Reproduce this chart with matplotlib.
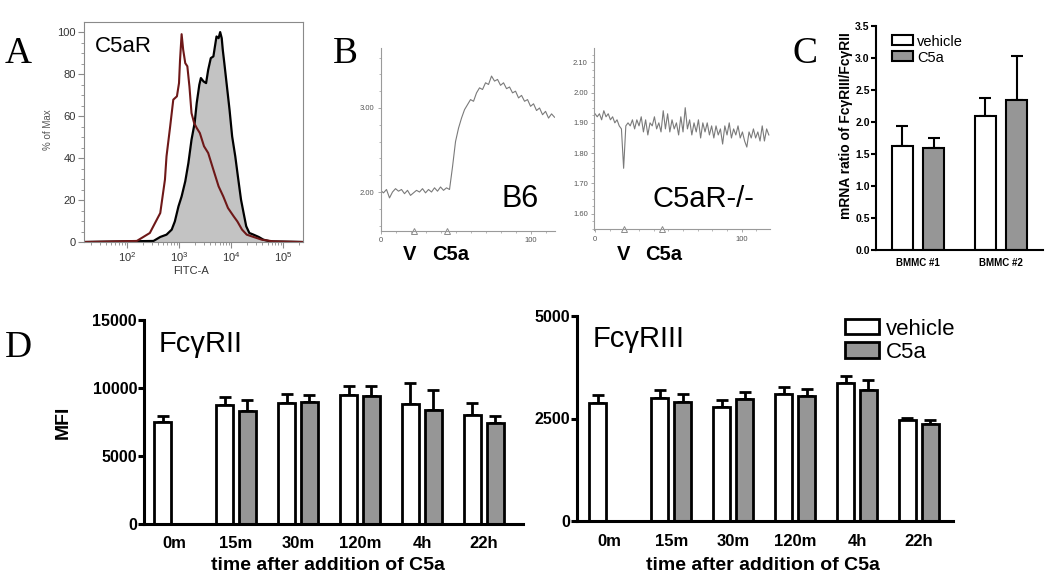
import numpy as np
import matplotlib
matplotlib.use("Agg")
import matplotlib.pyplot as plt
from matplotlib.patches import Rectangle
from matplotlib.ticker import MultipleLocator, FixedLocator, LogLocator, NullFormatter
from matplotlib.transforms import blended_transform_factory

plt.rcParams['font.family'] = ['Liberation Sans', 'DejaVu Sans']
plt.rcParams['mathtext.fontset'] = 'custom'
plt.rcParams['mathtext.rm'] = 'Liberation Sans'

# ---------------- data ----------------
# Panel A: flow histograms (log10 FITC vs % of max)
iso_log10 = [1.18, 2.19, 2.44, 2.64, 2.73, 2.76, 2.83, 2.89, 2.96, 3.00, 3.02, 3.05, 3.08,
             3.12, 3.16, 3.20, 3.24, 3.29, 3.34, 3.40, 3.48, 3.56, 3.66, 3.76, 3.85, 3.94,
             4.05, 4.12, 4.21, 4.30, 4.43, 4.59, 4.81, 5.38]
iso_pct = [0, 0.5, 4.3, 13.8, 29.7, 40.8, 55.0, 67.8, 69.4, 75.7, 86.8, 99.0, 91.6,
           85.2, 83.7, 74.1, 61.4, 56.7, 54.3, 51.9, 45.6, 42.4, 34.4, 26.5, 21.7, 16.2,
           12.2, 9.8, 5.9, 3.5, 2.4, 1.1, 0.3, 0]
c5ar_log10 = [1.18, 2.51, 2.64, 2.76, 2.86, 2.92, 2.99, 3.05, 3.12, 3.18, 3.24, 3.30, 3.34,
              3.39, 3.42, 3.47, 3.52, 3.56, 3.61, 3.66, 3.69, 3.72, 3.76, 3.79, 3.82, 3.84,
              3.87, 3.92, 3.97, 4.02, 4.08, 4.13, 4.19, 4.24, 4.29, 4.35, 4.43, 4.53, 4.62,
              4.75, 5.38]
c5ar_pct = [0, 0.5, 2.4, 3.5, 5.9, 9.8, 17.0, 21.7, 28.9, 37.6, 48.7, 56.7, 66.2,
            74.9, 78.1, 76.5, 75.7, 82.0, 87.6, 88.4, 93.2, 97.9, 97.1, 100.0, 97.1, 91.6,
            85.2, 74.1, 63.0, 50.3, 40.8, 31.3, 20.2, 13.8, 7.5, 4.3, 3.5, 2.4, 1.1,
            0.3, 0]

# Panel B: calcium traces (ratio vs time)
b6_step = 2.0
b6_ratio = [2.02, 1.99, 2.03, 1.93, 2.00, 2.04, 2.01, 2.03, 1.98, 2.02,
            1.96, 1.99, 2.02, 2.00, 2.04, 1.99, 2.03, 2.00, 2.05, 2.01,
            2.06, 2.02, 2.05, 2.03, 2.30, 2.60, 2.76, 2.88, 2.98, 3.04,
            3.10, 3.08, 3.18, 3.24, 3.22, 3.30, 3.28, 3.38, 3.32, 3.34,
            3.27, 3.30, 3.23, 3.25, 3.18, 3.20, 3.12, 3.15, 3.08, 3.10,
            3.02, 3.05, 2.97, 3.00, 2.92, 2.96, 2.88, 2.93, 2.89]
b6_marks = [22, 44]
ko_step = 1.5
ko_ratio = [1.93, 1.92, 1.93, 1.91, 1.94, 1.92, 1.93, 1.91, 1.92, 1.90,
            1.91, 1.89, 1.88, 1.75, 1.89, 1.90, 1.89, 1.91, 1.88, 1.91,
            1.89, 1.92, 1.87, 1.91, 1.86, 1.90, 1.89, 1.92, 1.88, 1.90,
            1.87, 1.94, 1.88, 1.93, 1.87, 1.91, 1.88, 1.90, 1.86, 1.92,
            1.87, 1.95, 1.88, 1.91, 1.86, 1.90, 1.87, 1.91, 1.85, 1.90,
            1.87, 1.90, 1.86, 1.89, 1.85, 1.89, 1.86, 1.88, 1.83, 1.89,
            1.86, 1.90, 1.85, 1.88, 1.86, 1.89, 1.85, 1.87, 1.84, 1.82,
            1.87, 1.85, 1.88, 1.85, 1.87, 1.84, 1.89, 1.84, 1.88, 1.86]
ko_marks = [19.7, 45.5]

# Panel C: mRNA ratio
c_groups = ['BMMC #1', 'BMMC #2']
c_vehicle = [1.63, 2.09]
c_vehicle_err = [0.30, 0.29]
c_c5a = [1.60, 2.34]
c_c5a_err = [0.15, 0.69]

# Panel D: MFI over time
times = ['0m', '15m', '30m', '120m', '4h', '22h']
r2_vehicle = [7500, 8760, 8900, 9470, 8810, 8050]
r2_vehicle_err = [450, 590, 640, 680, 1590, 830]
r2_c5a = [np.nan, 8340, 8950, 9420, 8390, 7390]
r2_c5a_err = [np.nan, 810, 540, 710, 1490, 540]
r3_vehicle = [2870, 2990, 2780, 3105, 3375, 2455]
r3_vehicle_err = [195, 205, 180, 155, 155, 65]
r3_c5a = [np.nan, 2910, 2985, 3050, 3205, 2360]
r3_c5a_err = [np.nan, 180, 170, 170, 225, 105]

# ---------------- figure ----------------
W, H = 1050, 583
fig = plt.figure(figsize=(W / 100, H / 100), dpi=100)


def ax_px(x0, y0, x1, y1):
    return fig.add_axes([x0 / W, 1 - y1 / H, (x1 - x0) / W, (y1 - y0) / H])


def ftext(x, y, s, **kw):
    return fig.text(x / W, 1 - y / H, s, **kw)


GRAY = '#969696'

# Panel letters
for lx, ly, letter in [(5, 63, 'A'), (333, 63, 'B'), (792, 63, 'C'), (5, 357, 'D')]:
    ftext(lx, ly, letter, family='Liberation Serif', fontsize=27, va='baseline', ha='left')

# ---------------- A ----------------
axA = ax_px(84, 22, 303, 242)
axA.set_xscale('log')
pos_x = 10 ** np.array(c5ar_log10)
iso_x = 10 ** np.array(iso_log10)
axA.fill_between(pos_x, c5ar_pct, 0, color='#c3c3c3', lw=0)
axA.plot(pos_x, c5ar_pct, color='black', lw=1.6)
axA.plot(iso_x, iso_pct, color='#6e1818', lw=1.5)
axA.set_xlim(15, 2.4e5)
axA.set_ylim(0, 104.8)
for sp in axA.spines.values():
    sp.set_color('#8a8a8a')
    sp.set_linewidth(0.8)
axA.xaxis.set_major_locator(FixedLocator([1e2, 1e3, 1e4, 1e5]))
axA.set_xticklabels([r'$10^2$', r'$10^3$', r'$10^4$', r'$10^5$'])
axA.xaxis.set_minor_locator(LogLocator(base=10, subs=np.arange(2, 10)))
axA.xaxis.set_minor_formatter(NullFormatter())
axA.set_yticks([0, 20, 40, 60, 80, 100])
axA.yaxis.set_minor_locator(MultipleLocator(5))
axA.tick_params(axis='both', which='major', labelsize=8, colors='#8a8a8a',
                labelcolor='#333333', length=4, width=0.8, direction='out', pad=2)
axA.tick_params(axis='both', which='minor', colors='#8a8a8a', length=2, width=0.6)
ftext(48, 130, '% of Max', rotation=90, fontsize=7, color='#555555', ha='center', va='center')
ftext(191, 271, 'FITC-A', fontsize=8, color='#333333', ha='center', va='center')
ftext(95, 52.5, 'C5aR', fontsize=16, va='baseline', ha='left')

# ---------------- B ----------------
TRACE = '#7a7a7a'


def style_trace_axes(ax):
    for s in ['top', 'right']:
        ax.spines[s].set_visible(False)
    for s in ['left', 'bottom']:
        ax.spines[s].set_color('#9a9a9a')
        ax.spines[s].set_linewidth(0.8)
    ax.tick_params(axis='both', which='major', labelsize=5.5, colors='#9a9a9a',
                   labelcolor='#555555', length=2.5, width=0.6, pad=2)
    ax.tick_params(axis='both', which='minor', colors='#9a9a9a', length=1.5, width=0.5)
    ax.xaxis.set_minor_locator(MultipleLocator(10))


axB1 = ax_px(380.5, 48, 555, 230.5)
tb6 = np.arange(len(b6_ratio)) * b6_step
axB1.plot(tb6, b6_ratio, color=TRACE, lw=0.8)
axB1.set_xlim(0, 116.3)
axB1.set_ylim(1.542, 3.714)
axB1.set_yticks([2.0, 3.0])
axB1.set_yticklabels(['2.00', '3.00'])
axB1.yaxis.set_minor_locator(MultipleLocator(0.2))
axB1.set_xticks([0, 100])
style_trace_axes(axB1)
tr = blended_transform_factory(axB1.transData, axB1.transAxes)
axB1.plot(b6_marks, [0.0] * len(b6_marks), ls='none', marker='^', ms=4.5, mfc='white',
          mec='#8a8a8a', mew=0.7, transform=tr, clip_on=False)

axB2 = ax_px(594, 48, 770, 229.5)
tko = np.arange(len(ko_ratio)) * ko_step
axB2.plot(tko, ko_ratio, color=TRACE, lw=0.8)
axB2.set_xlim(-0.7, 119.3)
axB2.set_ylim(1.548, 2.147)
axB2.set_yticks([1.6, 1.7, 1.8, 1.9, 2.0, 2.1])
axB2.set_yticklabels(['1.60', '1.70', '1.80', '1.90', '2.00', '2.10'])
axB2.yaxis.set_minor_locator(MultipleLocator(0.025))
axB2.set_xticks([0, 100])
style_trace_axes(axB2)
tr2 = blended_transform_factory(axB2.transData, axB2.transAxes)
axB2.plot(ko_marks, [0.0] * len(ko_marks), ls='none', marker='^', ms=4.5, mfc='white',
          mec='#8a8a8a', mew=0.7, transform=tr2, clip_on=False)

ftext(502, 207, 'B6', fontsize=22, va='baseline', ha='left')
ftext(652, 207, 'C5aR-/-', fontsize=21, va='baseline', ha='left')
for vx, cx in [(403, 432), (617, 645)]:
    ftext(vx, 260, 'V', fontsize=14.5, fontweight='bold', va='baseline', ha='left')
    ftext(cx, 260, 'C5a', fontsize=14.5, fontweight='bold', va='baseline', ha='left')

# ---------------- C ----------------
axC = ax_px(876, 26, 1043, 250)
xc = np.arange(len(c_groups))
bw, off = 0.253, 0.187
axC.bar(xc - off, c_vehicle, bw, color='white', edgecolor='black', linewidth=1.5, zorder=2)
axC.bar(xc + off, c_c5a, bw, color=GRAY, edgecolor='black', linewidth=1.5, zorder=2)
axC.errorbar(xc - off, c_vehicle, yerr=[np.zeros(len(xc)), c_vehicle_err], fmt='none',
             ecolor='black', elinewidth=1.5, capsize=4, capthick=1.5, zorder=1)
axC.errorbar(xc + off, c_c5a, yerr=[np.zeros(len(xc)), c_c5a_err], fmt='none',
             ecolor='black', elinewidth=1.5, capsize=4, capthick=1.5, zorder=1)
axC.set_xlim(-0.506, 1.506)
axC.set_ylim(0, 3.5)
for s in ['top', 'right']:
    axC.spines[s].set_visible(False)
for s in ['left', 'bottom']:
    axC.spines[s].set_linewidth(1.5)
axC.set_yticks(np.arange(0, 3.51, 0.5))
axC.set_yticklabels(['%.1f' % v for v in np.arange(0, 3.51, 0.5)], fontweight='bold', fontsize=7.5)
axC.set_xticks(xc)
axC.set_xticklabels(c_groups, fontweight='bold', fontsize=7)
axC.tick_params(axis='y', length=3.5, width=1.5, pad=1)
axC.tick_params(axis='x', length=0, pad=6)
ftext(846, 126, 'mRNA ratio of Fc\u03b3RIII/Fc\u03b3RII', rotation=90, fontsize=10,
      fontweight='bold', ha='center', va='center')
for (y0, y1, lab, col) in [(35, 45, 'vehicle', 'white'), (51, 61, 'C5a', GRAY)]:
    fig.add_artist(Rectangle((892 / W, 1 - y1 / H), 21 / W, (y1 - y0) / H,
                             transform=fig.transFigure, facecolor=col,
                             edgecolor='black', linewidth=1.5))
    ftext(917, y1 + 0.7, lab, fontsize=10.5, va='baseline', ha='left')

# ---------------- D ----------------
xd = np.arange(len(times))
dbw, doff = 0.274, 0.185


def draw_d(ax, veh, veh_err, c5, c5_err, yticks, xl):
    veh = np.array(veh, float)
    c5 = np.array(c5, float)
    ax.bar(xd - doff, veh, dbw, color='white', edgecolor='black', linewidth=2.0, zorder=2)
    m = ~np.isnan(c5)
    ax.bar(xd[m] + doff, c5[m], dbw, color=GRAY, edgecolor='black', linewidth=2.0, zorder=2)
    ax.errorbar(xd - doff, veh, yerr=[np.zeros(len(xd)), veh_err], fmt='none',
                ecolor='black', elinewidth=2.0, capsize=4, capthick=2.0, zorder=1)
    ax.errorbar(xd[m] + doff, c5[m], yerr=[np.zeros(m.sum()), np.array(c5_err)[m]],
                fmt='none', ecolor='black', elinewidth=2.0, capsize=4, capthick=2.0, zorder=1)
    ax.set_xlim(*xl)
    ax.set_ylim(0, yticks[-1])
    for s in ['top', 'right']:
        ax.spines[s].set_visible(False)
    for s in ['left', 'bottom']:
        ax.spines[s].set_linewidth(2.2)
    ax.set_yticks(yticks)
    ax.set_yticklabels([str(v) for v in yticks], fontweight='bold', fontsize=11.5)
    ax.set_xticks(xd)
    ax.set_xticklabels(times, fontweight='bold', fontsize=12)
    ax.tick_params(axis='y', length=4, width=2.2, pad=1)
    ax.tick_params(axis='x', length=0, pad=9)


axD1 = ax_px(144, 320, 523, 524)
draw_d(axD1, r2_vehicle, r2_vehicle_err, r2_c5a, r2_c5a_err, [0, 5000, 10000, 15000], (-0.484, 5.63))
axD2 = ax_px(577, 316, 953, 521)
draw_d(axD2, r3_vehicle, r3_vehicle_err, r3_c5a, r3_c5a_err, [0, 2500, 5000], (-0.52, 5.55))

ftext(63.5, 422, 'MFI', rotation=90, fontsize=14, fontweight='bold', ha='center', va='center')
ftext(328, 566, 'time after addition of C5a', fontsize=14, fontweight='bold', ha='center', va='center')
ftext(763, 566, 'time after addition of C5a', fontsize=14, fontweight='bold', ha='center', va='center')
ftext(159, 352, 'Fc\u03b3RII', fontsize=21, va='baseline', ha='left')
ftext(593, 347, 'Fc\u03b3RIII', fontsize=21, va='baseline', ha='left')
for (y0, y1, lab, col) in [(319, 334, 'vehicle', 'white'), (342, 357.5, 'C5a', GRAY)]:
    fig.add_artist(Rectangle((845 / W, 1 - y1 / H), 34 / W, (y1 - y0) / H,
                             transform=fig.transFigure, facecolor=col,
                             edgecolor='black', linewidth=2.0))
    ftext(886, y1 + 1, lab, fontsize=16, va='baseline', ha='left')

fig.savefig('out.png', dpi=100)
